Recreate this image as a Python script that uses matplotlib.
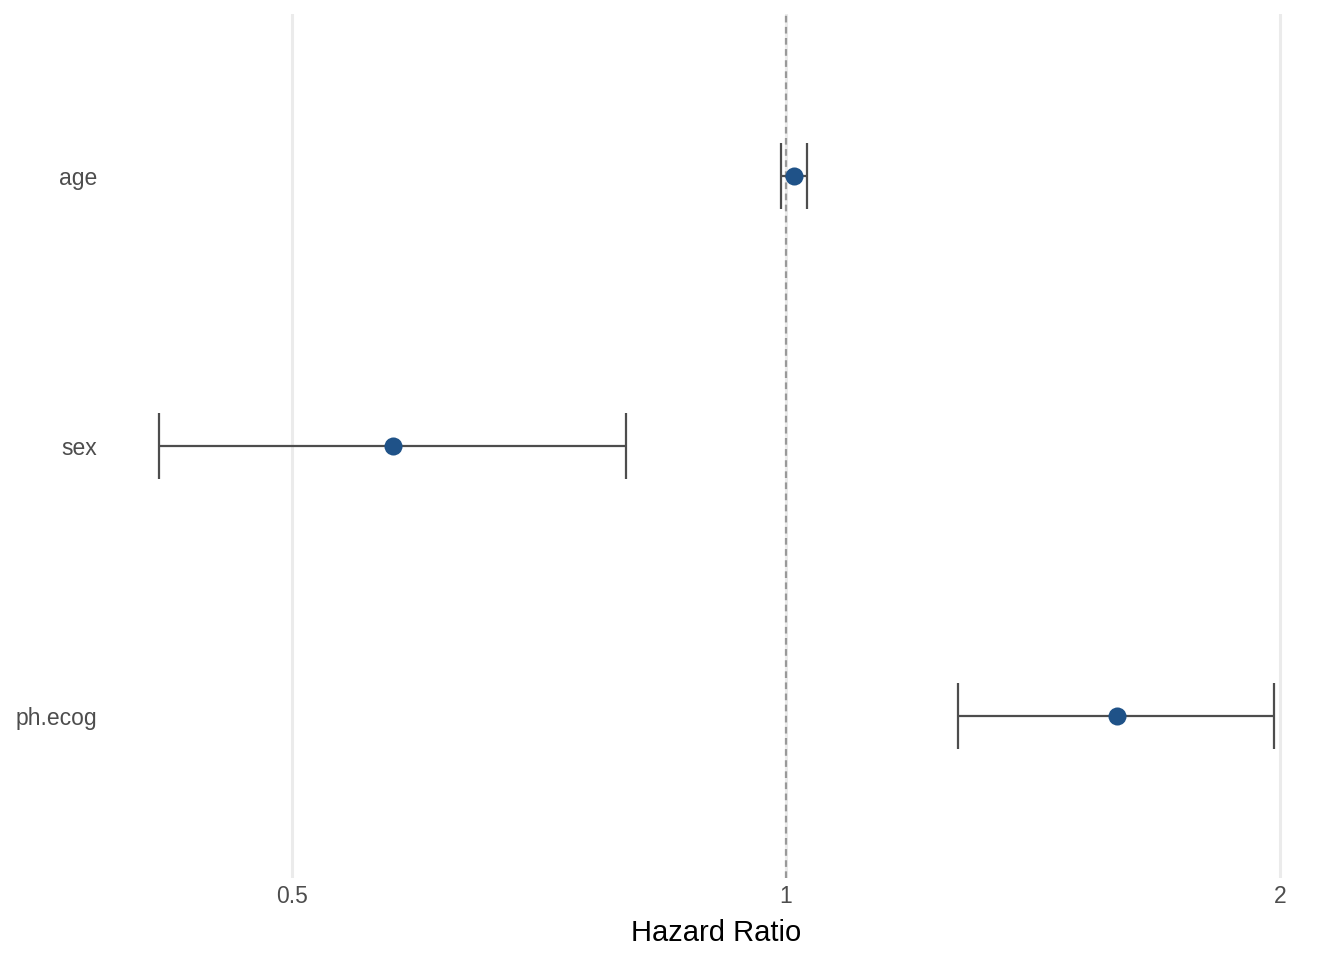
import matplotlib.pyplot as plt
import numpy as np

# Cox model hazard ratios with 95% CI
terms = ["age", "sex", "ph.ecog"]
hr = [1.011, 0.576, 1.590]
ci_low = [0.993, 0.415, 1.273]
ci_high = [1.030, 0.799, 1.983]
x_ticks = [0.5, 1, 2]
x_tick_labels = ["0.5", "1", "2"]

plt.rcParams['font.family'] = ['Liberation Sans', 'DejaVu Sans']

fig = plt.figure(figsize=(13.44, 9.6), dpi=100)
ax = fig.add_axes([103 / 1344, 1 - 878 / 960, (1330 - 103) / 1344, (878 - 14) / 960])

ypos = np.arange(len(terms))[::-1] + 1  # age at top

ax.set_xscale('log', base=2)

# light vertical gridlines
for t in x_ticks:
    ax.axvline(t, color='#EBEBEB', lw=2.2, zorder=0)

ax.axvline(1, color='#999999', lw=1.6, ls=(0, (3, 2)), zorder=1)

ax.errorbar(hr, ypos,
            xerr=[np.array(hr) - np.array(ci_low), np.array(ci_high) - np.array(hr)],
            fmt='none', ecolor='#4D4D4D', elinewidth=1.6, capsize=23.8, capthick=1.6, zorder=2)
ax.plot(hr, ypos, 'o', color='#1F5288', markersize=13, zorder=3, markeredgewidth=0)

lo = np.log2(min(ci_low))
hi = np.log2(max(ci_high))
pad = (hi - lo) * 0.05
ax.set_xlim(2 ** (lo - pad), 2 ** (hi + pad))
ax.set_ylim(0.4, 3.6)

ax.set_xticks(x_ticks)
ax.set_xticklabels(x_tick_labels)
ax.xaxis.set_minor_locator(plt.NullLocator())
ax.set_yticks(ypos)
ax.set_yticklabels(terms)
ax.tick_params(axis='both', length=0, labelsize=16.5, colors='#4D4D4D')
ax.tick_params(axis='x', pad=5)
ax.tick_params(axis='y', pad=4)

ax.set_xlabel("Hazard Ratio", fontsize=21, color='black', labelpad=8)

for s in ax.spines.values():
    s.set_visible(False)

fig.savefig("out.png", dpi=100)
